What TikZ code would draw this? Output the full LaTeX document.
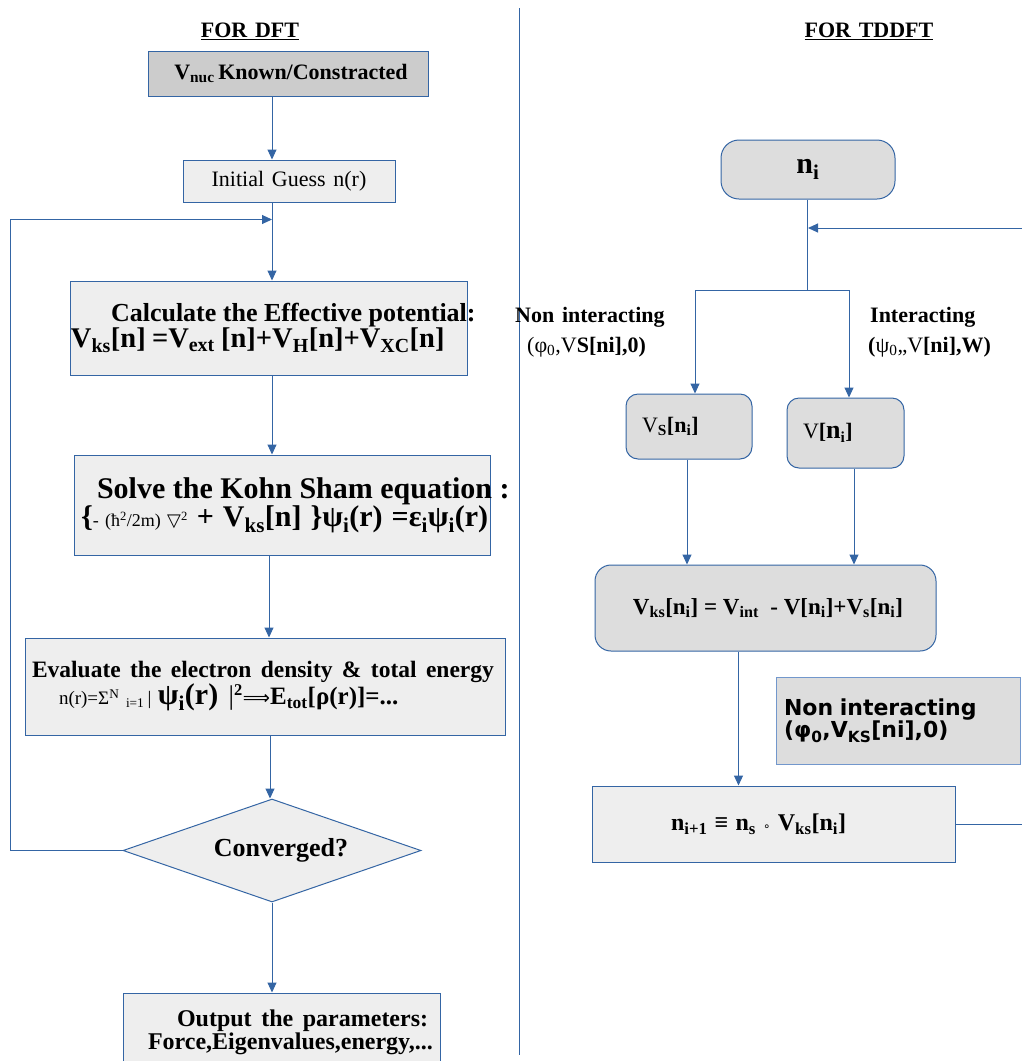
\documentclass[tikz,border=0pt]{standalone}
\usepackage{fontspec}
\setmainfont{Liberation Serif}
\newfontfamily\dejavu{DejaVu Sans}
\usetikzlibrary{arrows.meta,positioning,calc,shapes.geometric}
\usepackage{xcolor}
\definecolor{LineBlue}{RGB}{52,101,164}
\definecolor{PaleBlue}{RGB}{114,151,204}
\definecolor{LightGray}{RGB}{238,238,238}
\definecolor{MidGray}{RGB}{221,221,221}
\definecolor{DarkGray}{RGB}{204,204,204}
\setlength{\parindent}{0pt}
\newcommand{\lo}[1]{\textsubscript{#1}}
\newcommand{\hi}[1]{\textsuperscript{#1}}
\newcommand{\fsz}[2]{\fontsize{#1}{#2}\selectfont\spaceskip=.35em\relax}
\newcommand{\plainspace}{\spaceskip=0pt\relax}
\tikzset{
  flowbox/.style={draw=LineBlue, fill=LightGray, line width=1pt,
    inner sep=0pt, align=left},
  roundbox/.style={flowbox, fill=MidGray, rounded corners=12pt},
  decision/.style={diamond, draw=LineBlue, fill=LightGray, line width=1pt,
    inner sep=0pt, aspect=2.9},
  heading/.style={font=\fsz{22}{26}\bfseries},
  sidelabel/.style={inner sep=0pt, align=left, anchor=north west,
    font=\fsz{22}{30}},
  arrow/.style={-{Triangle[length=10pt,width=9pt]}, LineBlue, line width=1pt},
  link/.style={LineBlue, line width=1pt}
}

\begin{document}
\begin{tikzpicture}[x=1pt, y=-1pt]
  \useasboundingbox (0,0) rectangle (1021,1061);

  % two halves of the page
  \draw[link] (519,8) -- (519,1055);
  \node[heading] (dfthead) at (250,31) {\underline{FOR DFT}};
  \node[heading] (tddfthead) at (869,31) {\underline{FOR TDDFT}};

  % ---- DFT loop
  \node[flowbox, fill=DarkGray, text width=280pt, minimum height=45pt,
    align=center] (vnuc) at (288,73.5)
    {\fsz{22}{26}\bfseries\hspace*{6pt}V\lo{nuc}\,Known/Constracted};

  \node[flowbox, text width=212pt, minimum height=42pt, align=center]
    (guess) at (289,181) {\fsz{22}{26}Initial Guess n(r)};

  \node[flowbox, text width=397pt, minimum height=94pt] (calc) at (268.5,328)
    {\bfseries\fsz{26}{34}\plainspace\mbox{\hspace*{41pt}Calculate the Effective potential:}\\
     \fsz{28.5}{34}\spaceskip=.22em\relax\mbox{\hspace*{1pt}V\lo{ks}[n] =V\lo{ext} [n]+V\lo{H}[n]+V\lo{XC}[n]}};

  \node[flowbox, text width=416pt, minimum height=100pt] (solve) at (282,505)
    {\bfseries\fsz{30}{37}\plainspace\mbox{\hspace*{23pt}Solve the Kohn Sham equation :}\\
     \spaceskip=.3em\relax
     \mbox{\hspace*{7pt}\{{\mdseries\fsz{18}{37}- (ħ\hi{2}/2m) {\dejavu ▽}\hi{2}} + V\lo{ks}[n] \}ψ\lo{i}(r) =ε\lo{i}ψ\lo{i}(r)}};

  \node[flowbox, text width=480pt, minimum height=97pt] (evalu) at (265,686.5)
    {\bfseries\fsz{23.5}{35}\spaceskip=.4em\relax\mbox{\hspace*{7pt}Evaluate the electron density \& total energy}\\
     \mbox{\hspace*{34pt}{\mdseries\fsz{19}{35}n(r)=Σ\hi{N}\lo{ i=1}\,| }{\fsz{30}{35}ψ\lo{i}(r) }{\mdseries\fsz{27}{35}|}\hi{2}{\mdseries\dejavu\fsz{19}{35}⟹}{\fsz{25}{35}E\lo{tot}[ρ(r)]=...}}};

  \node[decision, minimum width=298pt, minimum height=103pt] (conv) at (272,850.5)
    {\fsz{26}{30}\bfseries\hspace*{18pt}\raisebox{-3pt}{Converged?}};

  \node[flowbox, text width=317pt, minimum height=79pt] (output) at (281.5,1032.5)
    {\bfseries\fsz{24}{29}\spaceskip=.4em\relax\mbox{\hspace*{54pt}Output the parameters:}\\
     \mbox{\hspace*{25pt}Force,Eigenvalues,energy,...}};

  \draw[arrow] (vnuc.south -| conv.north) -- (guess.north -| conv.north);
  \draw[arrow] (guess.south -| conv.north) -- (calc.north -| conv.north);
  \draw[arrow] (calc.south -| conv.north) -- (solve.north -| conv.north);
  \draw[arrow] ([xshift=-3pt]solve.south -| conv.north) -- ([xshift=-3pt]evalu.north -| conv.north);
  \draw[arrow] ([xshift=-2pt]evalu.south -| conv.north) -- ([xshift=-2pt]conv.north);
  \draw[arrow] (conv.south) -- (output.north -| conv.south);

  % back to the potential when not converged
  \coordinate (loopin) at ($(guess.south -| conv.north)+(0,17)$);
  \draw[arrow] (conv.west) -- ++(-112,0) |- (loopin);

  % ---- TDDFT
  \node[roundbox, rounded corners=18pt, minimum width=174pt, minimum height=59pt,
    align=center] (ni) at (808,169.5) {\bfseries\fsz{30}{32}n\lo{i}};

  \node[sidelabel] (nonlab) at (515,307)
    {\textbf{Non interacting}\\
     \hspace*{12pt}(φ\lo{0},V\textbf{S[ni],0)}};
  \node[sidelabel] (intlab) at (870,307)
    {\textbf{Interacting}\\
     \hspace*{-2pt}\textbf{(}ψ\lo{0},,V\textbf{[ni],W)}};

  \node[roundbox, text width=126pt, minimum height=65pt] (vs) at (689,426.5)
    {\fsz{22}{26}\hspace*{16pt}V\lo{\textbf{S}}\textbf{[n\lo{i}]}};
  \node[roundbox, text width=117pt, minimum height=70pt] (vv) at (845.5,433)
    {\fsz{22}{26}\hspace*{16pt}V\textbf{[{\fsz{26}{26}n}\lo{i}]}};

  \node[roundbox, rounded corners=16pt, text width=341pt, minimum height=86pt,
    align=center] (vks) at (765.5,608)
    {\bfseries\fsz{23}{26}\spaceskip=.25em\relax\hspace*{5pt}V\lo{ks}[n\lo{i}] = V\lo{int} \ - V[n\lo{i}]+V\lo{s}[n\lo{i}]};

  \node[flowbox, fill=MidGray, draw=PaleBlue, text width=244pt, minimum height=87pt]
    (nonbox) at (898,720.5)
    {\dejavu\bfseries\fsz{22}{30}\spaceskip=.3em\relax\hspace*{8pt}Non interacting\\
     \hspace*{8pt}(φ\lo{0},V\lo{KS}[ni],0)};

  \node[flowbox, text width=363pt, minimum height=76pt] (next) at (773.5,824)
    {\bfseries\fsz{24}{26}\spaceskip=.3em\relax\hspace*{79pt}n\lo{i+1} ≡ n\lo{s} {\dejavu\mdseries\fsz{12}{26}∘} V\lo{ks}[n\lo{i}]};

  \coordinate (split) at (807,290);
  \coordinate (back) at (808,228);
  \draw[link] (ni.south -| split) -- (split);
  \draw[arrow] (split) -| ([xshift=6pt]vs.north);
  \draw[arrow] (split) -| ([xshift=3.5pt]vv.north);
  \draw[arrow] ([xshift=-2pt]vs.south) -- ([xshift=-2pt]vs.south |- vks.north);
  \draw[arrow] ([xshift=8.5pt]vv.south) -- ([xshift=8.5pt]vv.south |- vks.north);
  \draw[arrow] ([xshift=-27pt]vks.south) -- ([xshift=-27pt]vks.south |- next.north);
  % next density goes round again
  \draw[arrow] (next.east) -- ++(70,0) |- (back);
\end{tikzpicture}
\end{document}
